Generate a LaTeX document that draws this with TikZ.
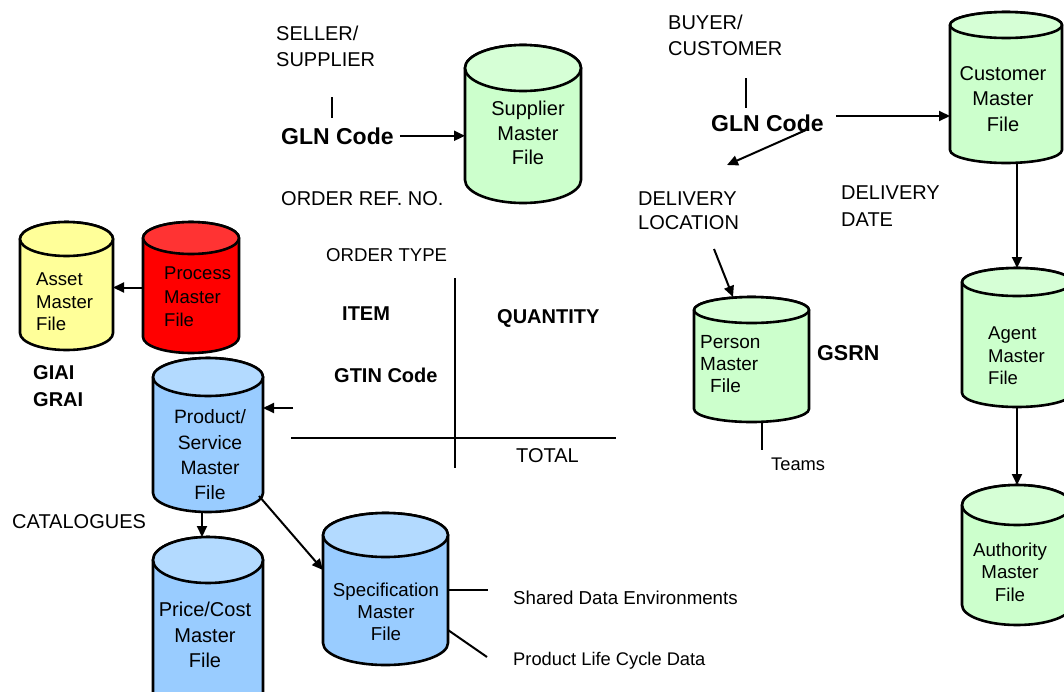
\documentclass[tikz,border=0pt]{standalone}
\usepackage{fontspec}
\setmainfont{Liberation Sans}
\usetikzlibrary{arrows.meta,calc}

\definecolor{mintbody}{HTML}{CCFFCC}
\definecolor{mintend}{HTML}{D6FFD6}
\definecolor{skybody}{HTML}{99CCFF}
\definecolor{skyend}{HTML}{B3DAFF}
\definecolor{lemon}{HTML}{FFFF99}
\definecolor{redbody}{HTML}{FF0000}
\definecolor{redend}{HTML}{FF3333}

\tikzset{
  cylframe/.style={draw=none, inner sep=0pt, outer sep=0pt},
  cylline/.style={draw=black, line width=2.6pt, line join=round},
  link/.style={line width=2pt, -{Triangle[length=11pt,width=10pt]}},
  rule/.style={line width=2pt},
  lbl/.style={anchor=base west, inner sep=0pt, font=\fontsize{20}{24}\selectfont},
  boldlbl/.style={anchor=base west, inner sep=0pt, font=\fontsize{20}{24}\selectfont\bfseries},
  cyltext/.style={inner sep=0pt, align=center},
}

% master file drum: name, left, top, right, bottom, ellipse half height, body colour, end colour
\newcommand\masterfile[8]{%
  \node[cylframe, minimum width={(#4-#2)*1pt}, minimum height={(#5-#3)*1pt}]
    (#1) at ({(#2+#4)/2},{-(#3+#5)/2}) {};
  \pgfmathsetmacro\cylrx{(#4-#2)/2}
  \filldraw[cylline, fill=#7] ([yshift=-#6pt]#1.north west)
    -- ([yshift=#6pt]#1.south west)
    arc[start angle=180, end angle=360, x radius=\cylrx pt, y radius=#6pt]
    -- ([yshift=-#6pt]#1.north east)
    arc[start angle=0, end angle=180, x radius=\cylrx pt, y radius=#6pt] -- cycle;
  \filldraw[cylline, fill=#8] ([yshift=-#6pt]#1.north)
    ellipse[x radius=\cylrx pt, y radius=#6pt];
}

\begin{document}
\begin{tikzpicture}[x=1pt, y=1pt]
\useasboundingbox (0,0) rectangle (1064,-691);
\clip (0,0) rectangle (1064,-691);

% drums
\masterfile{supplier}{465}{45}{581}{203}{23}{mintbody}{mintend}
\masterfile{customer}{950}{12}{1062}{163}{13}{mintbody}{mintend}
\masterfile{asset}{20}{222}{113}{350}{17}{lemon}{lemon}
\masterfile{process}{143}{222}{239}{353}{16}{redbody}{redend}
\masterfile{product}{153}{358}{263}{512}{19}{skybody}{skyend}
\masterfile{price}{153}{537}{263}{720}{23}{skybody}{skyend}
\masterfile{spec}{323}{513}{448}{665}{22}{skybody}{skyend}
\masterfile{person}{694}{297}{809}{422}{13}{mintbody}{mintend}
\masterfile{agent}{962}{268}{1072}{407}{14}{mintbody}{mintend}
\masterfile{authority}{962}{485}{1072}{625}{20}{mintbody}{mintend}

% drum labels
\node[cyltext, font=\fontsize{20}{24.5}\selectfont] (supplierlbl) at (528,-133) {Supplier\\Master\\File};
\node[cyltext, font=\fontsize{20}{25.5}\selectfont] (customerlbl) at (1003,-99) {Customer\\Master\\File};
\node[cyltext, align=left, anchor=west, font=\fontsize{18.6}{22.5}\selectfont] (assetlbl) at (36,-302) {Asset\\Master\\File};
\node[cyltext, align=left, anchor=west, font=\fontsize{18.5}{23.5}\selectfont] (processlbl) at (164,-297) {Process\\Master\\File};
\node[cyltext, font=\fontsize{19.3}{25.3}\selectfont] (productlbl) at (210,-455) {Product/\\Service\\Master\\File};
\node[cyltext, font=\fontsize{20}{25.5}\selectfont] (pricelbl) at (205,-635) {Price/Cost\\Master\\File};
\node[cyltext, font=\fontsize{18.7}{22}\selectfont] (speclbl) at (386,-612) {Specification\\Master\\File};
\node[cyltext, align=left, anchor=west, font=\fontsize{19}{22}\selectfont] (personlbl) at (700,-364) {Person\\Master\\\hspace*{10pt}File};
\node[cyltext, align=left, anchor=west, font=\fontsize{18.5}{22.5}\selectfont] (agentlbl) at (988,-356) {Agent\\Master\\File};
\node[cyltext, font=\fontsize{18.7}{22.5}\selectfont] (authoritylbl) at (1010,-572) {Authority\\Master\\File};

% seller side
\node[lbl] (seller) at (276,-40) {SELLER/};
\node[lbl] (sellersup) at (276,-66) {SUPPLIER};
\coordinate (sellerTop) at (332,-97);
\coordinate (sellerBot) at (332,-118);
\draw[rule] (sellerTop) -- (sellerBot);
\node[boldlbl, font=\fontsize{23}{27}\selectfont\bfseries] (glnsell) at (281,-144) {GLN Code};
\draw[link, shorten <=6pt] (glnsell.east) -- (supplier.west |- glnsell.east);
\node[lbl] (orderref) at (281,-205) {ORDER REF. NO.};

% buyer side
\node[lbl] (buyer) at (668,-29) {BUYER/};
\node[lbl] (buyercust) at (668,-55) {CUSTOMER};
\coordinate (buyerTop) at (746,-78);
\coordinate (buyerBot) at (746,-108);
\draw[rule] (buyerTop) -- (buyerBot);
\node[boldlbl, font=\fontsize{23}{27}\selectfont\bfseries] (glnbuy) at (711,-131) {GLN Code};
\coordinate (glnTail) at (836,-116);
\draw[link] (glnTail) -- (customer.west |- glnTail);
\coordinate (diagTail) at (806,-130);
\coordinate (diagHead) at (727,-165);
\draw[link] (diagTail) -- (diagHead);
\node[lbl] (delloc) at (638,-205) {DELIVERY};
\node[lbl] (delloc2) at (638,-229) {LOCATION};
\node[lbl] (deldate) at (841,-199) {DELIVERY};
\node[lbl] (deldate2) at (841,-226) {DATE};
\coordinate (dlTail) at (714,-249);
\draw[link] (dlTail) -- ($(person.north west)+(39,0)$);
\node[boldlbl, font=\fontsize{21.5}{26}\selectfont\bfseries] (gsrn) at (817,-360) {GSRN};
\draw[rule] ([xshift=10.5pt]person.south) -- ++(0,-28) coordinate (teamsEnd);
\node[lbl, font=\fontsize{18.3}{22}\selectfont] (teams) at (771,-470) {Teams};
\draw[link] (agent.north |- customer.south) -- (agent.north);
\draw[link] (agent.south) -- (authority.north);

% order table
\node[lbl, font=\fontsize{18.6}{22}\selectfont] (ordertype) at (326,-261) {ORDER TYPE};
\coordinate (colTop) at (455,-278);
\coordinate (colBot) at (455,-468);
\coordinate (rowLeft) at (291,-438);
\coordinate (rowRight) at (616,-438);
\draw[rule] (colTop) -- (colBot);
\draw[rule] (rowLeft) -- (rowRight);
\node[boldlbl] (item) at (342,-320) {ITEM};
\node[boldlbl] (quantity) at (497,-323) {QUANTITY};
\node[boldlbl] (gtin) at (334,-382) {GTIN Code};
\node[lbl] (total) at (516,-462) {TOTAL};

% product side
\draw[link] (process.west) -- (asset.east |- process.west);
\node[boldlbl] (giai) at (33,-379) {GIAI};
\node[boldlbl] (grai) at (33,-406) {GRAI};
\coordinate (prodTail) at (293,-408);
\draw[link] (prodTail) -- (product.east |- prodTail);
\node[lbl] (catalogues) at (12,-528) {CATALOGUES};
\draw[link] ([xshift=-6pt]product.south) -- ([xshift=-6pt]price.north);
\draw[link] ($(product.south east)+(-4,16)$) -- ($(spec.west)+(0,19)$);
\draw[rule] ($(spec.east)+(0,-1)$) -- ++(40,0) coordinate (sdeEnd);
\draw[rule] ($(spec.south east)+(0,35)$) -- ++(39,-27) coordinate (plcEnd);
\node[lbl, font=\fontsize{18.7}{22}\selectfont] (sde) at (513,-604) {Shared Data Environments};
\node[lbl, font=\fontsize{18.3}{22}\selectfont] (plc) at (513,-665) {Product Life Cycle Data};
\end{tikzpicture}
\end{document}
